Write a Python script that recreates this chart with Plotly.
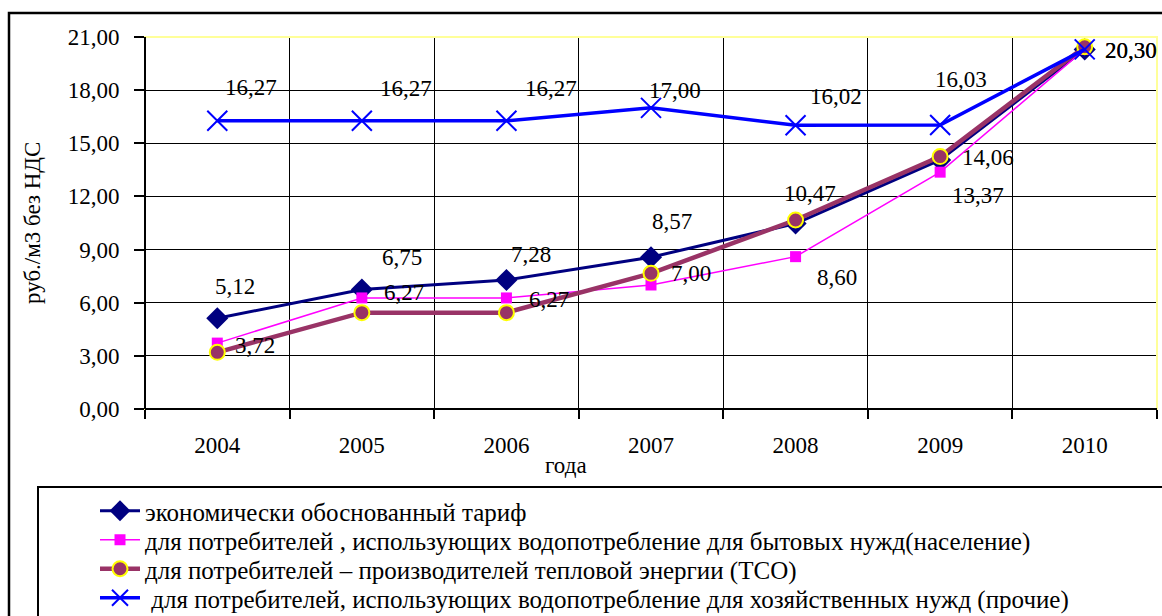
import plotly.graph_objects as go

years = ["2004", "2005", "2006", "2007", "2008", "2009", "2010"]
econ = [5.12, 6.75, 7.28, 8.57, 10.47, 14.06, 20.30]
household = [3.72, 6.27, 6.27, 7.00, 8.60, 13.37, 20.30]
tso = [3.20, 5.44, 5.44, 7.66, 10.67, 14.25, 20.45]
other = [16.27, 16.27, 16.27, 17.00, 16.02, 16.03, 20.30]

names = [
    "экономически обоснованный тариф",
    "для потребителей , использующих водопотребление для бытовых нужд(население)",
    "для потребителей – производителей тепловой энергии (ТСО)",
    " для потребителей, использующих водопотребление для хозяйственных нужд (прочие)",
]

FONT = "Times New Roman, Tinos, Liberation Serif, DejaVu Serif, serif"

fig = go.Figure()
fig.add_trace(go.Scatter(x=years, y=econ, name=names[0], mode="lines+markers",
                         line=dict(color="#000080", width=3),
                         marker=dict(symbol="diamond", size=17, color="#000080"),
                         legend="legend"))
fig.add_trace(go.Scatter(x=years, y=household, name=names[1], mode="lines+markers",
                         line=dict(color="#FF00FF", width=1.5),
                         marker=dict(symbol="square", size=11, color="#FF00FF"),
                         legend="legend2"))
fig.add_trace(go.Scatter(x=years, y=tso, name=names[2], mode="lines+markers",
                         line=dict(color="#993366", width=4.5),
                         marker=dict(symbol="circle", size=15, color="#993366",
                                     line=dict(color="#FFFF00", width=2)),
                         legend="legend3"))
fig.add_trace(go.Scatter(x=years, y=other, name=names[3], mode="lines+markers",
                         line=dict(color="#0000FF", width=3.5),
                         marker=dict(symbol="x-thin", size=20, color="#0000FF",
                                     line=dict(color="#0000FF", width=2)),
                         legend="legend4"))

# data labels: offsets in px (dx, dy up) from the point
econ_off = [(18, 32), (40, 32), (25, 26), (21, 36), (14, 30), (48, 2), (46, -1)]
house_off = [(38, -2), (42, 5), (43, -2), (40, 12), (41, -21), (38, -23), None]
other_off = [(34, 33), (44, 32), (45, 32), (24, 17), (40, 29), (21, 46), (46, -1)]

annotations = []
for vals, offs in [(econ, econ_off), (household, house_off), (other, other_off)]:
    for i, (v, o) in enumerate(zip(vals, offs)):
        if o is None:
            continue
        annotations.append(dict(x=i, y=v, xref="x", yref="y", text=f"{v:.2f}".replace(".", ","),
                                showarrow=False, xshift=o[0], yshift=o[1],
                                font=dict(family=FONT, size=23, color="black")))

L, R, T, B = 145, 5, 37, 207
W, H = 1162, 616
pw, ph = W - L - R, H - T - B

def px(xp):
    return (xp - L) / pw

def py(yp):
    return (H - B - yp) / ph

annotations.append(dict(x=px(32), y=py(223), xref="paper", yref="paper", text="руб./м3 без НДС",
                        textangle=-90, showarrow=False, xanchor="center", yanchor="middle",
                        font=dict(family=FONT, size=23, color="black")))
annotations.append(dict(x=px(566), y=py(465), xref="paper", yref="paper", text="года",
                        showarrow=False, xanchor="center", yanchor="middle",
                        font=dict(family=FONT, size=23, color="black")))

shapes = [
    dict(type="rect", xref="paper", yref="paper", x0=0, x1=1, y0=0, y1=1,
         line=dict(color="#FFFF99", width=2), layer="above"),
    dict(type="line", xref="paper", yref="paper", x0=0, x1=0, y0=0, y1=1,
         line=dict(color="black", width=2), layer="above"),
    dict(type="line", xref="paper", yref="paper", x0=0, x1=1, y0=0, y1=0,
         line=dict(color="black", width=2), layer="above"),
    dict(type="rect", xref="paper", yref="paper", x0=px(9), x1=px(1175), y0=py(630), y1=py(13),
         line=dict(color="black", width=2.5), layer="above"),
    dict(type="rect", xref="paper", yref="paper", x0=px(38), x1=px(1175), y0=py(630), y1=py(487),
         line=dict(color="black", width=2), layer="above"),
]

def leg(yc):
    return dict(x=px(95), y=py(yc), xanchor="left", yanchor="middle",
                bgcolor="rgba(0,0,0,0)", font=dict(family=FONT, size=25, color="black"),
                itemwidth=40)

fig.update_layout(
    width=W, height=H,
    margin=dict(l=L, r=R, t=T, b=B, autoexpand=False),
    paper_bgcolor="white", plot_bgcolor="white",
    separators=", ",
    font=dict(family=FONT, size=23, color="black"),
    showlegend=True,
    legend=leg(511), legend2=leg(540), legend3=leg(569), legend4=leg(598),
    xaxis=dict(type="category", tickson="boundaries", showgrid=True, gridcolor="black", gridwidth=1,
               ticks="outside", ticklen=9, tickcolor="black", tickwidth=1.5,
               showline=False, zeroline=False, ticklabelstandoff=20,
               tickfont=dict(family=FONT, size=23, color="black"),
               range=[-0.5, 6.5]),
    yaxis=dict(range=[0, 21], tickvals=[0, 3, 6, 9, 12, 15, 18, 21], tickformat=".2f",
               showgrid=True, gridcolor="black", gridwidth=1, zeroline=False, showline=False,
               ticks="outside", ticklen=10, tickcolor="black", tickwidth=1.5,
               ticklabelstandoff=10,
               tickfont=dict(family=FONT, size=23, color="black")),
    annotations=annotations,
    shapes=shapes,
)

fig.write_html("out.html", config={"displayModeBar": False},
               post_script="document.body.style.margin='0';document.body.style.overflow='hidden';")
